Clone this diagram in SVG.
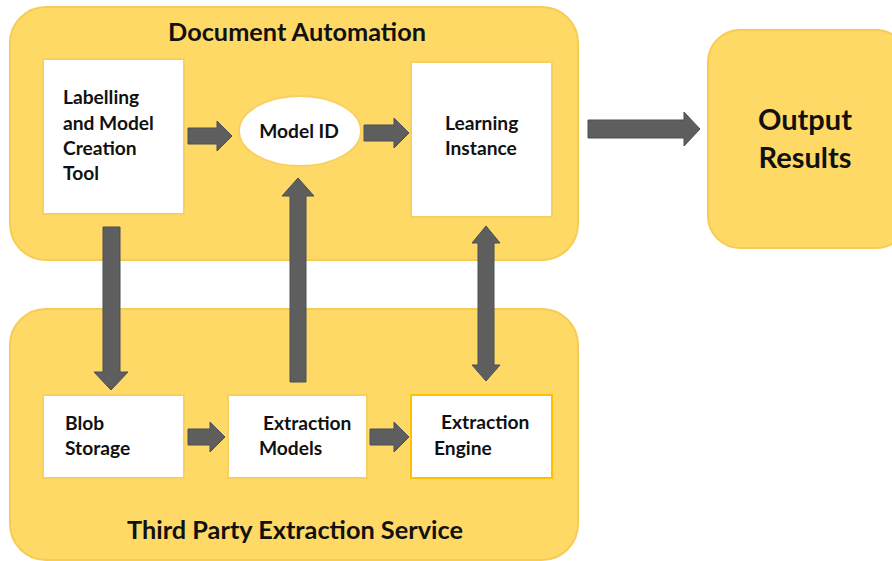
<svg xmlns="http://www.w3.org/2000/svg" width="892" height="561" viewBox="0 0 892 561">
<style>
.cont{fill:#FFD966;stroke:#F7CC55;stroke-width:2}
.box{fill:#FFFFFF;stroke:#F9D060;stroke-width:2}
.arr{fill:#5E5E5E;stroke:#46505A;stroke-width:1}
.t{font-family:Lato,"Open Sans",sans-serif;font-weight:bold;fill:#111111}
.title{font-size:25.3px}
.lbl{font-size:19.2px}
.big{font-size:29px}
</style>
<rect width="892" height="561" fill="#FFFFFF"/>
<g id="document-automation">
<rect class="cont" x="10" y="7" width="568" height="253" rx="36"/>
<text class="t title" x="297" y="41" text-anchor="middle">Document Automation</text>
</g>
<g id="third-party-extraction-service">
<rect class="cont" x="10" y="309" width="568" height="251" rx="36"/>
<text class="t title" x="295" y="539" text-anchor="middle">Third Party Extraction Service</text>
</g>
<g id="output-results">
<rect class="cont" x="708" y="30" width="200" height="218" rx="32"/>
<text class="t big" x="805" y="130" text-anchor="middle">Output</text>
<text class="t big" x="805" y="168" text-anchor="middle">Results</text>
</g>
<g id="labelling-tool">
<rect class="box" x="43" y="59" width="141" height="155"/>
<text class="t lbl" x="63" y="104">Labelling</text>
<text class="t lbl" x="63" y="130">and Model</text>
<text class="t lbl" x="63" y="155">Creation</text>
<text class="t lbl" x="63" y="180">Tool</text>
</g>
<g id="model-id">
<ellipse cx="300" cy="131" rx="61" ry="35" fill="#FFFFFF" stroke="#F9D060" stroke-width="2"/>
<text class="t lbl" x="299" y="138" text-anchor="middle">Model ID</text>
</g>
<g id="learning-instance">
<rect class="box" x="411" y="62" width="141" height="155"/>
<text class="t lbl" x="445" y="130">Learning</text>
<text class="t lbl" x="445" y="155">Instance</text>
</g>
<g id="blob-storage">
<rect class="box" x="43" y="395" width="141" height="83"/>
<text class="t lbl" x="65" y="430">Blob</text>
<text class="t lbl" x="65" y="455">Storage</text>
</g>
<g id="extraction-models">
<rect class="box" x="228" y="395" width="139" height="83"/>
<text class="t lbl" x="263" y="430">Extraction</text>
<text class="t lbl" x="259" y="455">Models</text>
</g>
<g id="extraction-engine">
<rect x="411" y="395" width="141" height="83" fill="#FFFFFF" stroke="#FFC000" stroke-width="2"/>
<text class="t lbl" x="441" y="429">Extraction</text>
<text class="t lbl" x="434" y="455">Engine</text>
</g>
<g id="connectors">
<polygon class="arr" points="188,128 217,128 217,121 232,136 217,151 217,144 188,144"/>
<polygon class="arr" points="364,125 394,125 394,118 409,133 394,148 394,141 364,141"/>
<polygon class="arr" points="588,120 684,120 684,112 700,129 684,146 684,138 588,138"/>
<polygon class="arr" points="103,227 120,227 120,372 128,372 111,390 94,372 103,372"/>
<polygon class="arr" points="290,382 306,382 306,196 314,196 298,178 282,196 290,196"/>
<polygon class="arr" points="478,243 472,243 486,226 500,243 494,243 494,365 500,365 486,381 472,365 478,365"/>
<polygon class="arr" points="188,429 210,429 210,422 225,437 210,452 210,445 188,445"/>
<polygon class="arr" points="370,429 394,429 394,422 409,437 394,452 394,445 370,445"/>
</g>
</svg>
